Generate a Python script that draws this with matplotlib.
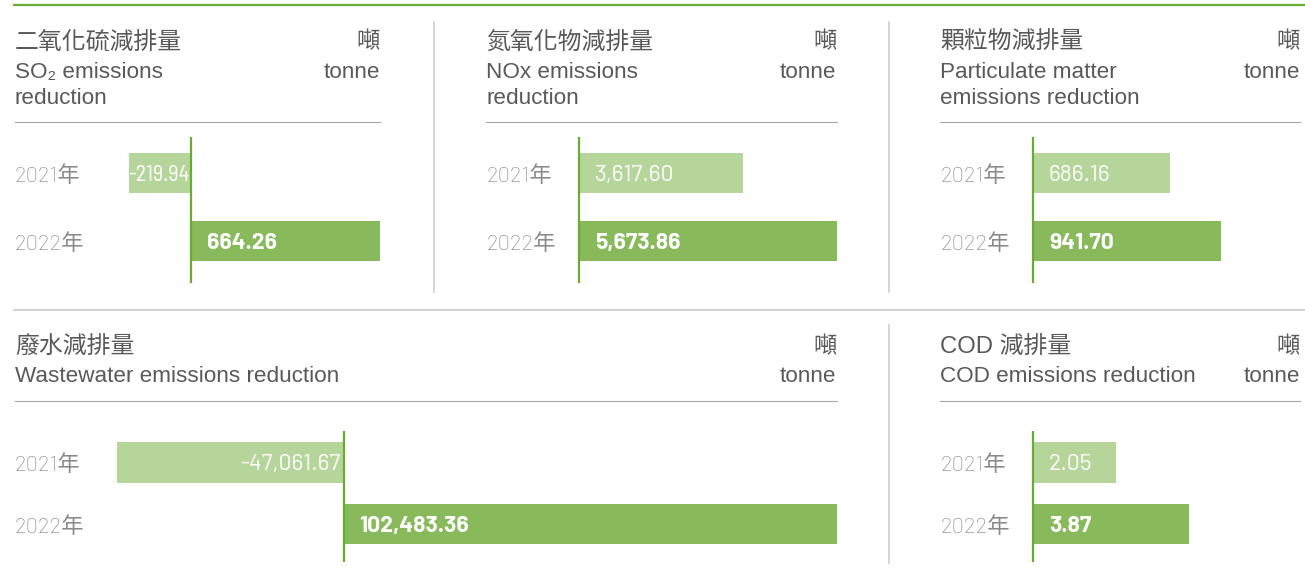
import matplotlib
matplotlib.use('Agg')
import matplotlib.pyplot as plt
from matplotlib.lines import Line2D
import logging

logging.getLogger('matplotlib.font_manager').setLevel(logging.ERROR)

# 數據
years = ['2021年', '2022年']
so2 = [-219.94, 664.26]
nox = [3617.60, 5673.86]
pm = [686.16, 941.70]
wastewater = [-47061.67, 102483.36]
cod = [2.05, 3.87]

titles_zh = ['二氧化硫減排量', '氮氧化物減排量', '顆粒物減排量', '廢水減排量', 'COD 減排量']
titles_en = [['SO₂ emissions', 'reduction'],
             ['NOx emissions', 'reduction'],
             ['Particulate matter', 'emissions reduction'],
             ['Wastewater emissions reduction'],
             ['COD emissions reduction']]
unit_zh = '噸'
unit_en = 'tonne'

# 顏色
GREEN_LINE = '#6aab32'
DARK_BAR = '#88b95b'
LIGHT_BAR = '#b6d59b'
TEXT = '#595959'
YEAR_TEXT = '#8a8a8a'

W, H = 1305, 574
fig = plt.figure(figsize=(W / 100, H / 100), dpi=100)


def fx(x):
    return x / W


def fy(y):
    return 1 - y / H


def hline(x0, x1, y, color, lw):
    fig.add_artist(Line2D([fx(x0), fx(x1)], [fy(y), fy(y)], color=color, lw=lw))


def vline(x, y0, y1, color, lw):
    fig.add_artist(Line2D([fx(x), fx(x)], [fy(y0), fy(y1)], color=color, lw=lw))


# 框線
hline(14, 1305, 5, GREEN_LINE, 1.6)
hline(14, 1305, 310, '#d0d0d0', 1.4)
vline(433.5, 22, 292, '#cccccc', 1.1)
vline(888.5, 22, 292, '#cccccc', 1.1)
vline(888.5, 325, 563, '#cccccc', 1.1)

zh_font = ['Liberation Sans', 'Noto Sans CJK TC']
en_font = ['Liberation Sans', 'DejaVu Sans']
num_font = ['Barlow', 'Roboto', 'Noto Sans CJK TC']
num_font_narrow = ['Barlow Semi Condensed', 'Roboto Condensed', 'Roboto']

# 每個面板的排版 (像素)
panels = [
    dict(data=so2, left=15, right=380, zero=191.5, xmax=664.26, head=0, rows=(173.3, 241.3), ax_top=137, ax_bot=283, bar_h=40),
    dict(data=nox, left=486, right=836.5, zero=579, xmax=5673.86, head=0, rows=(173.3, 241.3), ax_top=137, ax_bot=283, bar_h=40),
    dict(data=pm, left=940, right=1300, zero=1033, xmax=1337, head=0, rows=(173.3, 241.3), ax_top=137, ax_bot=283, bar_h=40),
    dict(data=wastewater, left=15, right=836.5, zero=343.5, xmax=102483.36, head=305, rows=(462.5, 524.2), ax_top=431, ax_bot=562, bar_h=40.5),
    dict(data=cod, left=940, right=1300, zero=1033, xmax=6.62, head=305, rows=(462.5, 524.2), ax_top=431, ax_bot=562, bar_h=40.5),
]

renderer = fig.canvas.get_renderer()

for i, p in enumerate(panels):
    h = p['head']
    # 標題
    fig.text(fx(p['left']), fy(h + 48.5), titles_zh[i], family=zh_font, fontsize=17.2,
             color=TEXT, ha='left', va='baseline')
    for j, line in enumerate(titles_en[i]):
        fig.text(fx(p['left']), fy(h + 77.5 + 26.5 * j), line, family=en_font, fontsize=16.2,
                 color=TEXT, ha='left', va='baseline')
    fig.text(fx(p['right']), fy(h + 48.5), unit_zh, family=['Noto Sans CJK TC'], fontsize=16.8,
             color=TEXT, ha='right', va='baseline')
    fig.text(fx(p['right']), fy(h + 77.5), unit_en, family=en_font, fontsize=16.2,
             color=TEXT, ha='right', va='baseline')
    sep_y = 122 if h == 0 else 401
    hline(p['left'], p['right'], sep_y, '#a8a8a8', 0.8)

    # 條形圖
    ax = fig.add_axes([fx(p['left']), fy(p['ax_bot']), (p['right'] - p['left']) / W,
                       (p['ax_bot'] - p['ax_top']) / H])
    step = p['rows'][1] - p['rows'][0]
    xmin = -(p['zero'] - p['left']) / (p['right'] - p['zero']) * p['xmax']
    ax.set_xlim(xmin, p['xmax'])
    ax.set_ylim(1 + (p['ax_bot'] - p['rows'][1]) / step, -(p['rows'][0] - p['ax_top']) / step)
    ax.axis('off')

    vals = p['data']
    colors = [LIGHT_BAR, DARK_BAR]
    bars = ax.barh([0, 1], vals, height=p['bar_h'] / step, color=colors, zorder=2)
    ax.axvline(0, color=GREEN_LINE, lw=1.6, zorder=3)

    for k, v in enumerate(vals):
        label = f'{v:,.2f}'
        weight = 'normal' if k == 0 else 'bold'
        size = 16.5
        if v >= 0:
            t = ax.annotate(label, (0, k), xytext=(11.5, 0), textcoords='offset points',
                            ha='left', va='center_baseline', color='white', fontsize=size,
                            family=num_font, fontweight=weight, zorder=4)
        else:
            t = ax.annotate(label, (0, k), xytext=(-2.5, 0), textcoords='offset points',
                            ha='right', va='center_baseline', color='white', fontsize=size,
                            family=num_font, fontweight=weight, zorder=4)
            # 數字比條形長時改用較窄的字體
            if t.get_window_extent(renderer).width > bars[k].get_window_extent(renderer).width - 3:
                t.set_family(num_font_narrow)
                t.set_fontsize(16)
                t.xyann = (-1.5, 0)
        ax.text(0, k, years[k], transform=ax.get_yaxis_transform(), ha='left',
                va='center_baseline', color=YEAR_TEXT, fontsize=16, family=num_font,
                fontweight='light')

fig.savefig('out.png', dpi=100)
